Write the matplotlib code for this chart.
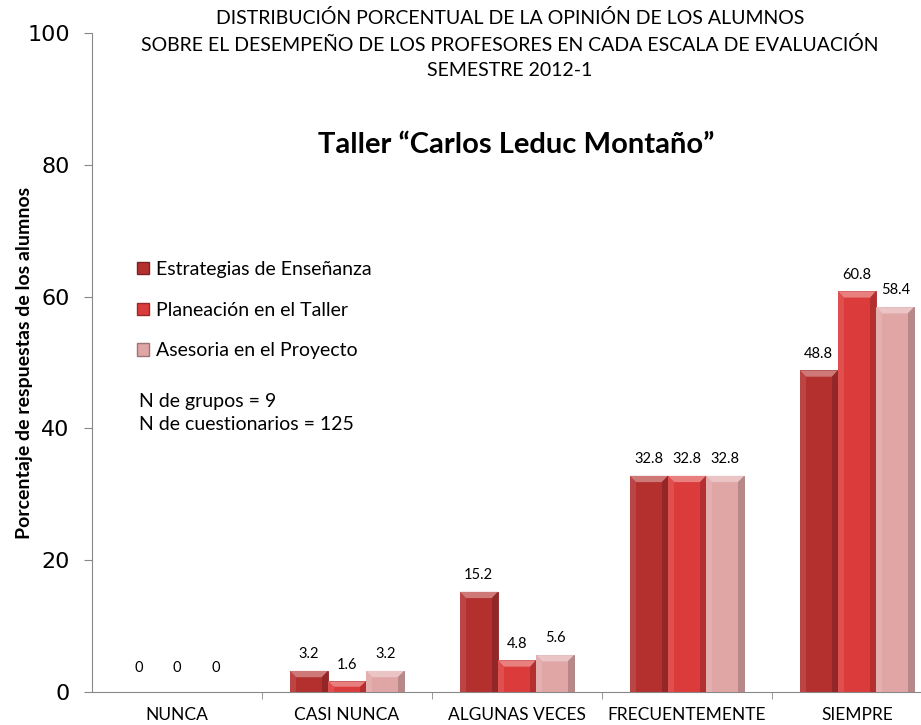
import matplotlib
matplotlib.use("Agg")
import matplotlib.pyplot as plt
import numpy as np
from matplotlib.patches import Polygon, Patch
from matplotlib.colors import to_rgb

categories = ["NUNCA", "CASI NUNCA", "ALGUNAS VECES", "FRECUENTEMENTE", "SIEMPRE"]
series_names = ["Estrategias de Enseñanza", "Planeación en el Taller", "Asesoria en el Proyecto"]
estrategias = [0, 3.2, 15.2, 32.8, 48.8]
planeacion = [0, 1.6, 4.8, 32.8, 60.8]
asesoria = [0, 3.2, 5.6, 32.8, 58.4]
value_labels = [
    ["0", "3.2", "15.2", "32.8", "48.8"],
    ["0", "1.6", "4.8", "32.8", "60.8"],
    ["0", "3.2", "5.6", "32.8", "58.4"],
]
title_lines = [
    "DISTRIBUCIÓN PORCENTUAL DE LA OPINIÓN DE LOS ALUMNOS",
    "SOBRE EL DESEMPEÑO DE LOS PROFESORES EN CADA ESCALA DE EVALUACIÓN",
    "SEMESTRE 2012-1",
]

colors = ["#B3302F", "#DB3B3A", "#E0A6A6"]
txt_font = ["Lato", "DejaVu Sans"]

W, H = 921, 725


def shade(c, f):
    r, g, b = to_rgb(c)
    if f > 1:
        return tuple(v + (1 - v) * (f - 1) for v in (r, g, b))
    return tuple(v * f for v in (r, g, b))


fig = plt.figure(figsize=(W / 100, H / 100), dpi=100)
# category width ~170 px, axis runs past the right edge of the picture
ax = fig.add_axes([92 / W, 33 / H, 850 / W, 659 / H])

x = np.arange(len(categories))
width = 0.225
data = [estrategias, planeacion, asesoria]

for i, vals in enumerate(data):
    xs = x + (i - 1) * width
    ax.bar(xs, vals, width, color=colors[i], edgecolor=shade(colors[i], 0.75), linewidth=0.6, zorder=2)
    for xc, h in zip(xs, vals):
        if h <= 0:
            continue
        x0, x1 = xc - width / 2, xc + width / 2
        dx = 0.035
        dy = min(0.95, h / 2)
        # bevel: top lighter, right darker, left a bit lighter
        ax.add_patch(Polygon([(x0, h), (x1, h), (x1 - dx, h - dy), (x0 + dx, h - dy)],
                             closed=True, facecolor=shade(colors[i], 1.35), edgecolor="none", zorder=3))
        ax.add_patch(Polygon([(x1, h), (x1, 0), (x1 - dx, 0), (x1 - dx, h - dy)],
                             closed=True, facecolor=shade(colors[i], 0.82), edgecolor="none", zorder=3))
        ax.add_patch(Polygon([(x0, h), (x0, 0), (x0 + dx, 0), (x0 + dx, h - dy)],
                             closed=True, facecolor=shade(colors[i], 1.1), edgecolor="none", zorder=3))
    for xc, h, lab in zip(xs, vals, value_labels[i]):
        off = 17 if h == 0 else 12
        ax.annotate(lab, (xc, h), xytext=(0, off), textcoords="offset points",
                    ha="center", va="center", fontsize=10.5, family=txt_font)

ax.set_xlim(-0.5, 4.5)
ax.set_ylim(0, 100)
ax.set_yticks([0, 20, 40, 60, 80, 100])
ax.tick_params(axis="y", labelsize=16, length=6, pad=10, color="#888888", direction="out")
ax.set_xticks(x)
ax.set_xticklabels(categories, fontsize=12.5, family=txt_font)
ax.set_xticks(np.arange(0.5, 4.5, 1), minor=True)
ax.tick_params(axis="x", which="major", length=0, pad=11)
ax.tick_params(axis="x", which="minor", length=5, color="#888888", direction="out")
for s in ["top", "right"]:
    ax.spines[s].set_visible(False)
ax.spines["left"].set_color("#888888")
ax.spines["bottom"].set_color("#888888")
ax.set_ylabel("Porcentaje de respuestas de los alumnos", fontsize=14, fontweight="bold",
              family=txt_font)
ax.yaxis.set_label_coords(-59 / 850, 0.5)

for line, ypx in zip(title_lines, [18, 45, 71]):
    fig.text(510 / W, 1 - ypx / H, line, ha="center", va="center", fontsize=14, family=txt_font)
fig.text(516 / W, 1 - 145 / H, "Taller “Carlos Leduc Montaño”",
         ha="center", va="center", fontsize=21, fontweight="bold", family=txt_font)

handles = [Patch(facecolor=c, edgecolor=shade(c, 0.7)) for c in colors]
fig.legend(handles, series_names, loc="upper left", bbox_to_anchor=(137 / W, 1 - 261 / H),
           frameon=False, prop={"family": txt_font, "size": 14}, labelspacing=1.22,
           handlelength=0.6, handleheight=0.6, handletextpad=0.4, borderaxespad=0, borderpad=0)

fig.text(139 / W, 1 - 401 / H, "N de grupos = 9", ha="left", va="center",
         fontsize=14, family=txt_font)
fig.text(139 / W, 1 - 425 / H, "N de cuestionarios = 125", ha="left", va="center",
         fontsize=14, family=txt_font)

fig.savefig("out.png", dpi=100)
